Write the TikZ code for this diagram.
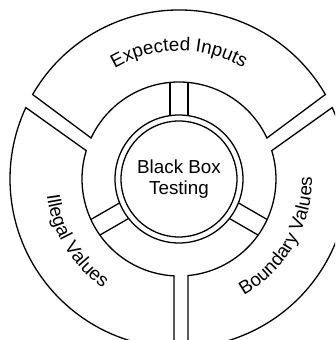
\documentclass[tikz,border=0pt]{standalone}
\usepackage{fontspec}
\setmainfont{Liberation Sans}
\usetikzlibrary{decorations.text}
\newcommand{\ringfont}{\fontsize{18.8}{21}\selectfont}

\begin{document}
\begin{tikzpicture}[x=1pt, y=1pt, line width=1.3pt, every node/.style={font=\ringfont},
    ringtext/.style={decorate, decoration={text along path, text align=center, text={|\ringfont|#1}}}]
    \clip (-179,-161) rectangle (156,179);
    \draw (150:169) arc[start angle=150, end angle=30, radius=169] -- (25:97) arc[start angle=25, end angle=155, radius=97] -- cycle;
    \draw (155:169) arc[start angle=155, end angle={270-asin(5/169)}, radius=169] -- ({270-asin(5/97)}:97) arc[start angle={270-asin(5/97)}, end angle=163, radius=97] -- cycle;
    \draw (25:169) arc[start angle=25, end angle={asin(9/169)-90}, radius=169] -- ({asin(9/97)-90}:97) arc[start angle={asin(9/97)-90}, end angle=17, radius=97] -- cycle;
    \node[draw, circle, minimum size=116pt, inner sep=0pt, align=center] (hub) at (0,0) {Black Box\\Testing};
    \draw (hub.center) circle[radius=64];
    \draw[rotate=90] (63.4,-9) -- (96.6,-9) (63.4,9) -- (96.6,9);
    \draw[rotate=210] (63.4,-9) -- (96.6,-9) (63.4,9) -- (96.6,9);
    \draw[rotate=330] (63.4,-9) -- (96.6,-9) (63.4,9) -- (96.6,9);
    \path[ringtext={Expected Inputs}] (150:128) arc[start angle=150, end angle=30, radius=128];
    \path[ringtext={Illegal Values}] (158:133) arc[start angle=158, end angle=264, radius=133];
    \path[ringtext={Boundary Values}] (278:133) arc[start angle=278, end angle=382, radius=133];
  \end{tikzpicture}
\end{document}
